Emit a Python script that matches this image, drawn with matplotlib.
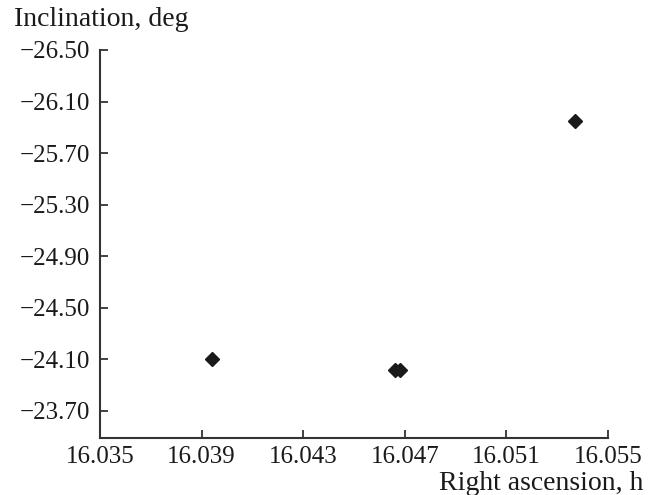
import matplotlib.pyplot as plt
from matplotlib.ticker import FuncFormatter

# data
right_ascension = [16.0394, 16.0466, 16.0468, 16.0537]
inclination = [-24.10, -24.02, -24.02, -25.95]

x_ticks = [16.035, 16.039, 16.043, 16.047, 16.051, 16.055]
y_ticks = [-26.50, -26.10, -25.70, -25.30, -24.90, -24.50, -24.10, -23.70]

plt.rcParams['font.family'] = ['Liberation Serif', 'DejaVu Serif']

fig = plt.figure(figsize=(6.58, 4.95), dpi=100)
ax = fig.add_axes([100 / 658, 1 - 438 / 495, 508 / 658, 388 / 495])

ax.plot(right_ascension, inclination, 'D', color='#1a1a1a', markersize=7, linestyle='none')

ax.set_xlim(16.035, 16.055)
ax.set_ylim(-23.49, -26.50)  # inverted axis
ax.set_xticks(x_ticks)
ax.set_yticks(y_ticks)
ax.xaxis.set_major_formatter(FuncFormatter(lambda v, p: f"{v:.3f}"))
ax.yaxis.set_major_formatter(FuncFormatter(lambda v, p: f"{v:.2f}".replace('-', '\u2212')))

for side in ['top', 'right']:
    ax.spines[side].set_visible(False)
for side in ['left', 'bottom']:
    ax.spines[side].set_linewidth(1.5)
    ax.spines[side].set_color('#333333')

ax.tick_params(direction='in', length=6, width=1.3, color='#333333',
               labelsize=18, labelcolor='#1a1a1a')
ax.tick_params(axis='x', pad=6)
ax.tick_params(axis='y', pad=7)

fig.text(14 / 658, 1 - 20 / 495, "Inclination, deg", ha='left', va='center',
         fontsize=20, color='#1a1a1a')
fig.text(643 / 658, 1 - 483 / 495, "Right ascension, h", ha='right', va='center',
         fontsize=20, color='#1a1a1a')

fig.savefig('out.png', dpi=100)
